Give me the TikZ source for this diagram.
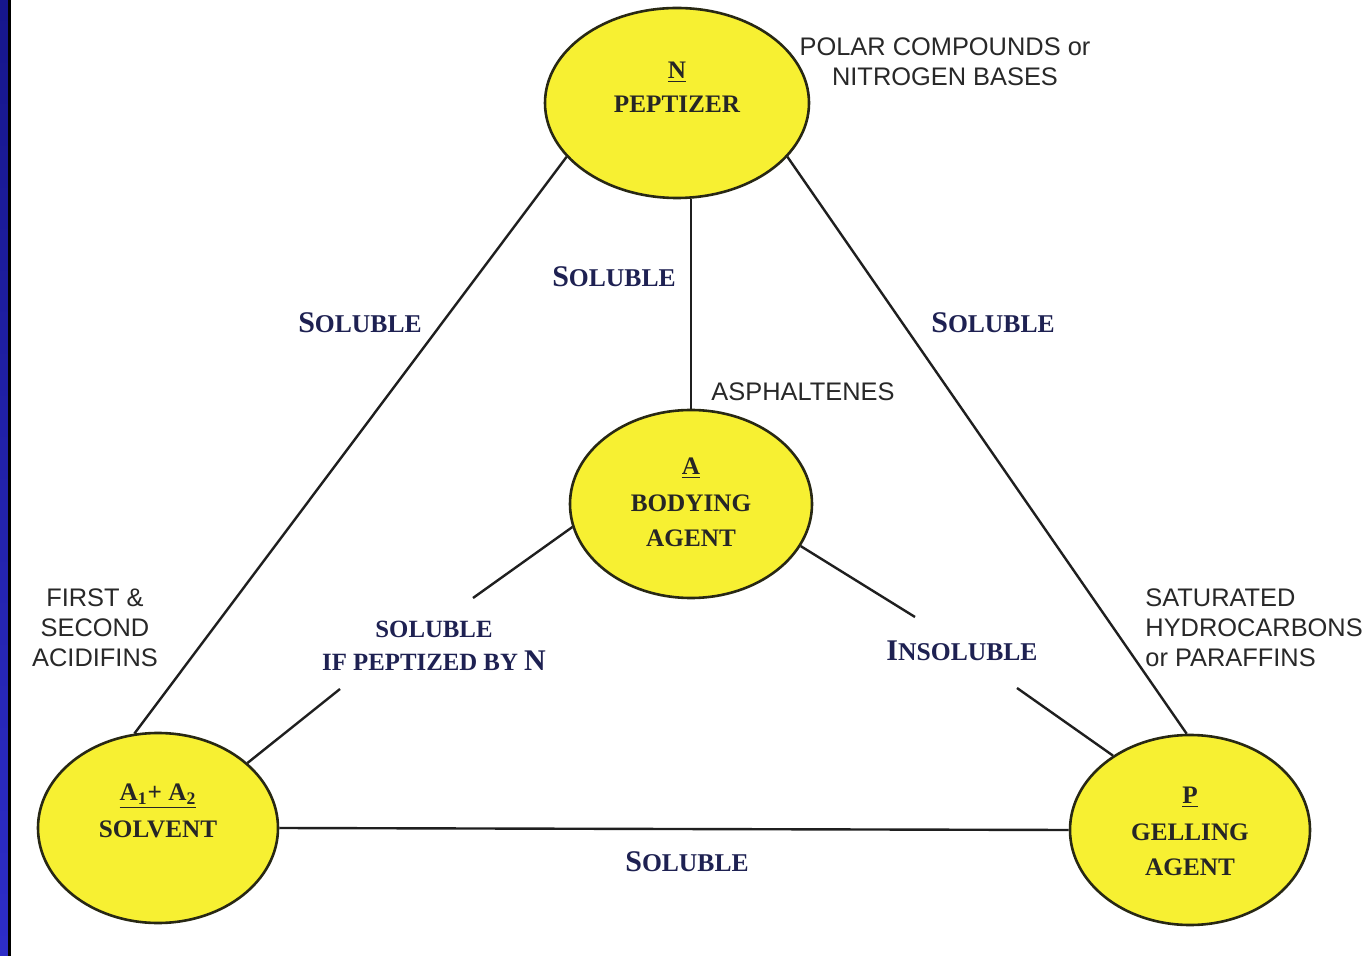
\documentclass[tikz,border=0pt]{standalone}
\usepackage{fontspec}
\setmainfont{Liberation Serif}
\newfontfamily\annfont{Liberation Sans}
\usetikzlibrary{shapes.geometric}
\definecolor{ellfill}{RGB}{247,240,50}
\definecolor{ellline}{RGB}{40,40,20}
\definecolor{navy}{RGB}{30,33,82}
\definecolor{anncol}{RGB}{40,40,40}
\definecolor{bartop}{RGB}{22,22,140}
\definecolor{barbot}{RGB}{45,45,200}
\newcommand{\mySC}[2]{{\fontsize{15}{18}\selectfont #1}{\fontsize{12.8}{15}\selectfont #2}}
\begin{document}
\begin{tikzpicture}[x=0.5pt,y=-0.5pt,
  ell/.style={ellipse,draw=ellline,line width=1.3pt,fill=ellfill,inner sep=0pt},
  conn/.style={line width=1.2pt,draw=black!88},
  etext/.style={font=\bfseries\fontsize{12.6}{16.5}\selectfont,text=black!85,inner sep=0pt},
  lbl/.style={font=\bfseries,text=navy,inner sep=0pt},
  ann/.style={font=\annfont\fontsize{12.7}{15}\selectfont,text=anncol,inner sep=0pt}]
\useasboundingbox (0,0) rectangle (1365,956);
\fill[white] (0,0) rectangle (1365,956);
\shade[top color=bartop,bottom color=barbot] (0,0) rectangle (8,956);
\fill[black] (8,0) rectangle (11,956);

% ellipses
\node[ell,minimum width=132pt,minimum height=95pt] (N) at (677,103) {};
\node[ell,minimum width=121pt,minimum height=94pt] (A) at (691,504) {};
\node[ell,minimum width=120pt,minimum height=95pt] (S) at (158,828) {};
\node[ell,minimum width=120pt,minimum height=95pt] (P) at (1190,830) {};

% connectors
\coordinate (as1) at (473,598);
\coordinate (as2) at (340,689);
\coordinate (ap1) at (915,617);
\coordinate (ap2) at (1017,688);
\draw[conn] (N.206) -- (S.104);
\draw[conn] (N.334) -- (P.92);
\draw[conn] (A.north) -- (A.north |- N.south);
\draw[conn] (A.191) -- (as1);
\draw[conn] (as2) -- (S.36);
\draw[conn] (A.339) -- (ap1);
\draw[conn] (ap2) -- (P.136);
\draw[conn] (S.east) -- (P.west);

% ellipse texts
\node[etext] (n1) at (677,72) {\underline{N}};
\node[etext] (n2) at (677,104) {PEPTIZER};
\node[etext] (a1) at (691,468) {\underline{A}};
\node[etext] (a2) at (691,503) {BODYING};
\node[etext] (a3) at (691,538) {AGENT};
\node[etext] (s1) at (158,796) {\underline{A\textsubscript{1}+ A\textsubscript{2}}};
\node[etext] (s2) at (158,829) {SOLVENT};
\node[etext] (p1) at (1190,797) {\underline{P}};
\node[etext] (p2) at (1190,832) {GELLING};
\node[etext] (p3) at (1190,867) {AGENT};

% connector labels
\node[lbl] (l1) at (360,323) {\mySC{S}{OLUBLE}};
\node[lbl] (l2) at (614,277) {\mySC{S}{OLUBLE}};
\node[lbl] (l3) at (993,323) {\mySC{S}{OLUBLE}};
\node[lbl] (l4) at (687,862) {\mySC{S}{OLUBLE}};
\node[lbl] (l5) at (962,651) {\mySC{I}{NSOLUBLE}};
\node[lbl,align=center,font=\bfseries\fontsize{12.4}{16.5}\selectfont] (l6) at (434,646)
  {SOLUBLE\\IF PEPTIZED BY {\fontsize{15}{16.5}\selectfont N}};

% annotations
\node[ann,align=center] (t1) at (945,62) {POLAR COMPOUNDS or\\NITROGEN BASES};
\node[ann] (t2) at (803,392) {ASPHALTENES};
\node[ann,align=center] (t3) at (95,628) {FIRST \&\\SECOND\\ACIDIFINS};
\node[ann,align=left,anchor=west] (t4) at (1145,628) {SATURATED\\HYDROCARBONS\\or PARAFFINS};
\end{tikzpicture}
\end{document}
